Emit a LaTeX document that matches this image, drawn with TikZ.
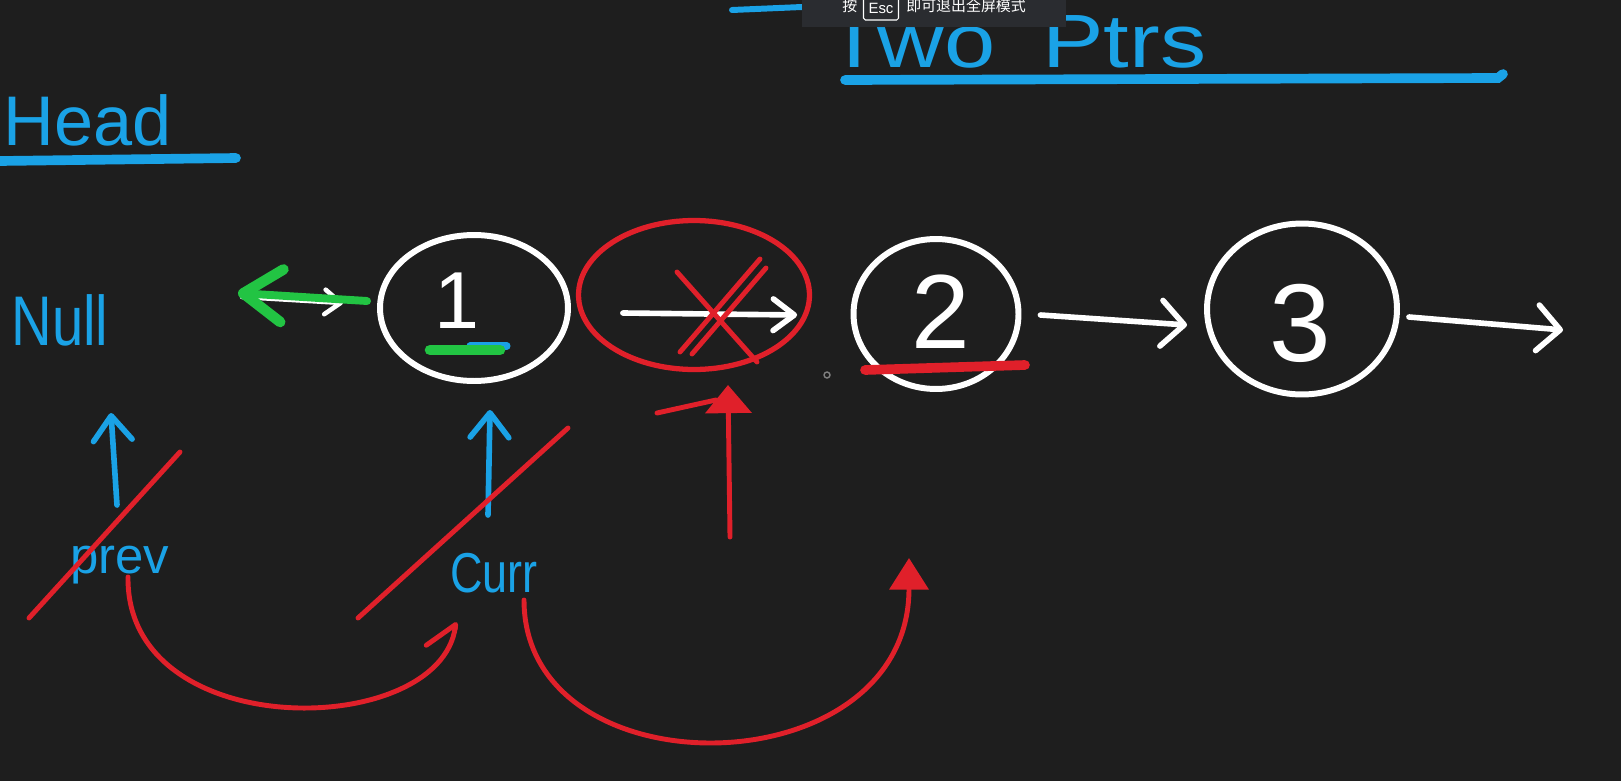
\documentclass[tikz,border=0pt]{standalone}
\usepackage{graphicx}
\usepackage{fontspec}
\setmainfont{Liberation Sans}
\newfontfamily\cjk{Noto Sans CJK SC}
\usetikzlibrary{arrows.meta,shapes.geometric,calc}
\definecolor{bg}{HTML}{1E1E1E}
\definecolor{pblue}{HTML}{1AA2E6}
\definecolor{pred}{HTML}{E0202A}
\definecolor{pgreen}{HTML}{22C443}
\definecolor{barbg}{HTML}{2A2C30}
\begin{document}
\begin{tikzpicture}[x=0.02cm,y=-0.02cm,
  ringnode/.style={ellipse, draw=white, line width=3.4pt, inner sep=0pt},
  digit/.style={text=white, inner sep=0pt},
  bluetext/.style={text=pblue, inner sep=0pt},
  wa/.style={draw=white, line width=3.2pt, line cap=round, line join=round, -{Straight Barb[round,length=13pt,width=26pt]}},
  ga/.style={draw=pgreen, line width=4.5pt, line cap=round, line join=round, -{Straight Barb[round,length=22pt,width=30pt,line width=6pt]}},
  ba/.style={draw=pblue, line width=3.2pt, line cap=round, line join=round, -{Straight Barb[round,length=14pt,width=22pt]}},
  rl/.style={draw=pred, line width=2.8pt, line cap=round, line join=round},
  uline/.style={line width=5.5pt, line cap=round}]
\fill[bg] (0,0) rectangle (1621,781);
\useasboundingbox (0,0) rectangle (1621,781);

% title
\node[bluetext, anchor=base west, font=\fontsize{43}{45}\selectfont] (title) at (826,67) {\scalebox{1.22}[1]{Two\hspace{22pt}Ptrs}};
\draw[pblue, uline] (845,80) -- (1498,78) -- (1503,74);
\draw[pblue, line width=3.4pt, line cap=round] (732,10) -- (802,7);

% head
\node[bluetext, anchor=base west, font=\fontsize{40}{42}\selectfont] (head) at (3,145) {Head};
\draw[pblue, uline] (0,161) -- (236,158);

% null
\node[bluetext, font=\fontsize{32}{34}\selectfont] (null) at (60,320) {\scalebox{1}[1.25]{Null}};

% list nodes
\node[ringnode, minimum width=3.76cm, minimum height=2.92cm] (n1) at (474,308) {};
\node[digit, font=\fontsize{46}{48}\selectfont] (d1) at (457,301) {1};
\node[ringnode, draw=pred, line width=3pt, minimum width=4.62cm, minimum height=2.98cm] (del) at (694,295) {};
\node[ringnode, minimum width=3.3cm, minimum height=3.0cm] (n2) at (936,314) {};
\node[digit, font=\fontsize{60}{62}\selectfont] (d2) at (941,312) {2};
\node[ringnode, minimum width=3.8cm, minimum height=3.42cm] (n3) at (1302,309) {};
\node[digit, font=\fontsize{63}{64}\selectfont] (d3) at (1300,323) {3};

% underlines on nodes
\draw[pblue, line width=4pt, line cap=round] (470,346) -- (507,346);
\draw[pgreen, line width=6pt, line cap=round] (430,350) -- (500,350);
\draw[pred, line width=5.5pt, line cap=round] (865,370) -- (1025,365);

% pointer labels
\node[bluetext, anchor=base west, font=\fontsize{29}{30}\selectfont] (prev) at (70,573) {prev};
\node[bluetext, anchor=base west, font=\fontsize{32}{34}\selectfont] (curr) at (450,592) {\scalebox{0.8}[1]{Curr}};

% coordinates for free ends
\coordinate (nullend) at (238,293);
\coordinate (wstart) at (242,297);
\coordinate (wtip) at (343,303);
\coordinate (prevup) at (117,505);
\coordinate (prevtip) at (111,413);
\coordinate (currup) at (488,515);
\coordinate (currtip) at (490,410);
\coordinate (out3) at (1563,330);
\coordinate (redbase) at (730,537);
\coordinate (redtip) at (728,385);

% white arrows
\draw[wa, line width=2.6pt, -{Straight Barb[round,length=9pt,width=14pt]}] (wstart) -- (wtip);
\draw[ga] ($(n1.west)+(-10,-7)$) -- (nullend);
\draw[wa, -{Straight Barb[round,length=12pt,width=18pt]}] ($(del.west)+(47,18)$) -- ($(del.east)+(-15,20)$);
\draw[wa] ($(n2.east)+(19,1)$) -- ($(n3.west)+(-17,16)$);
\draw[wa] ($(n3.east)+(9,8)$) -- (out3);

% red X
\draw[rl] (677,272) -- (757,362);
\draw[rl] (760,259) -- (680,352);
\draw[rl] (766,268) -- (692,354);

% blue pointer arrows
\draw[ba] (prevup) -- (prevtip);
\draw[ba] (currup) -- (currtip);

% strike-outs
\draw[rl] (29,618) -- (180,452);
\draw[rl] (358,618) -- (568,428);

% red move arrows
\draw[rl, -{Straight Barb[left,round,length=14pt,width=30pt]}] (128,577) .. controls (126,745) and (440,740) .. (456,622);
\draw[rl, -{Triangle[length=18pt,width=22pt]}] (524,600) .. controls (524,795) and (909,790) .. (909,558);
\draw[rl, -{Triangle[length=16pt,width=26pt]}] (redbase) -- (redtip);
\draw[rl] (657,413) -- (716,400);

% cursor dot
\node[circle, draw=gray, line width=0.8pt, minimum size=0.12cm, inner sep=0pt] (dot) at (827,375) {};

% fullscreen hint bar
\fill[barbg] (802,0) rectangle (1066,27);
\node[anchor=base west, text=white, inner sep=0pt, font=\cjk\fontsize{8.5}{9}\selectfont] (an) at (842,11) {按};
\node[draw=white, line width=0.6pt, rounded corners=1pt, text=white, inner sep=0pt, minimum width=0.7cm, minimum height=0.48cm, font=\fontsize{8.5}{9}\selectfont] (esc) at (881,8) {Esc};
\node[anchor=base west, text=white, inner sep=0pt, font=\cjk\fontsize{8.5}{9}\selectfont] (hint) at (906,11) {即可退出全屏模式};
\end{tikzpicture}
\end{document}
